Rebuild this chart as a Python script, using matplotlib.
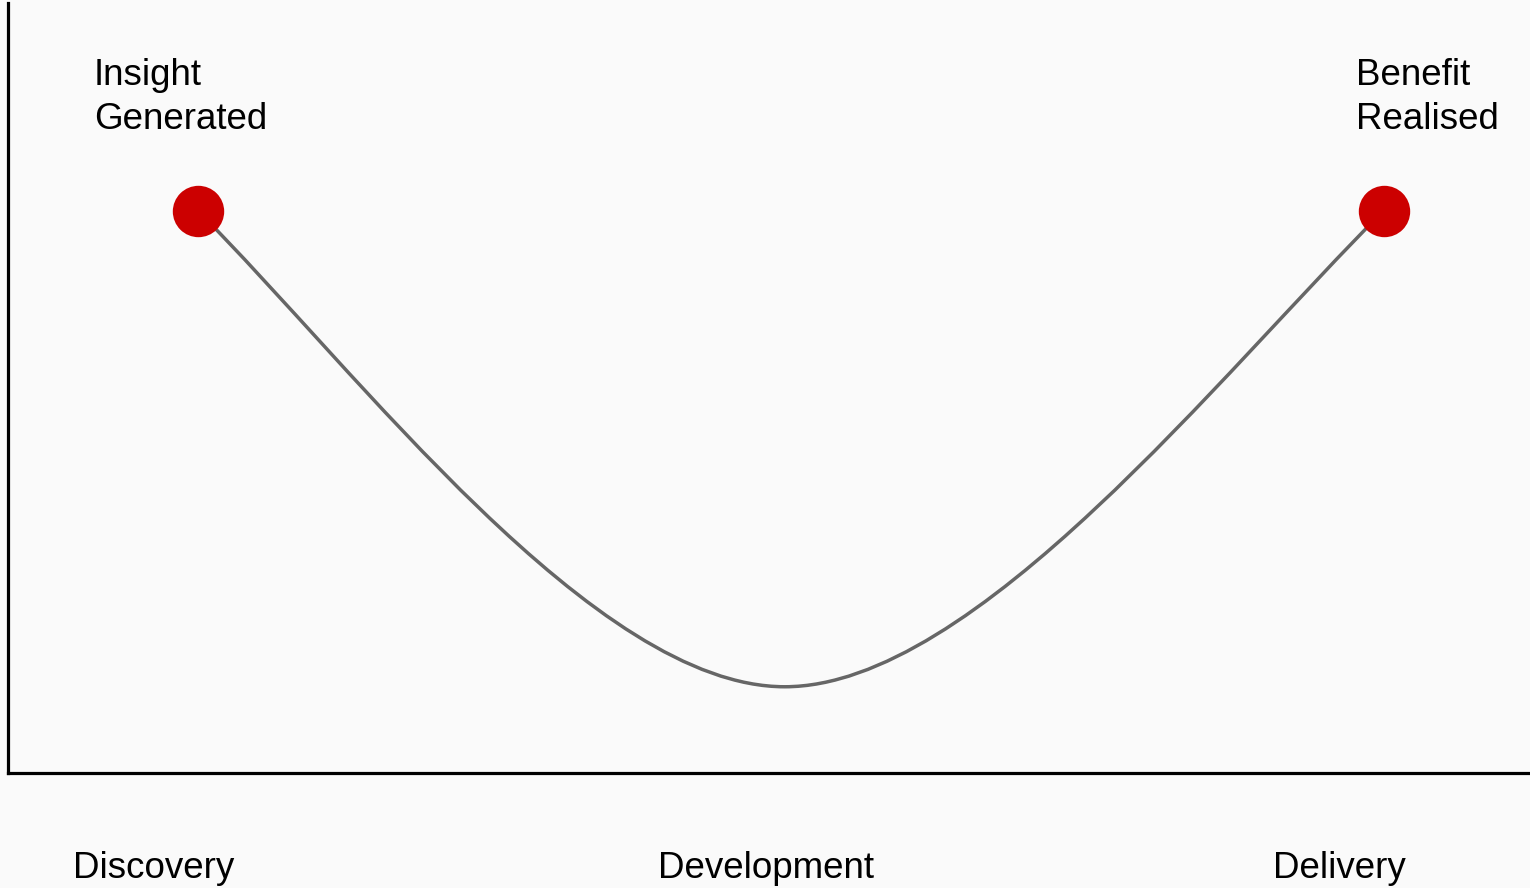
import matplotlib.pyplot as plt
from matplotlib.path import Path
from matplotlib.patches import PathPatch

# Phasen entlang der x-Achse
stage_labels = ['Discovery', 'Development', 'Delivery']
stage_x = [9.6, 49.9, 87.6]

# Meilensteine (rote Punkte)
milestone_labels = ['Insight\nGenerated', 'Benefit\nRealised']
milestone_x = [12.5, 90.5]
milestone_y = [73.0, 73.0]

# Tiefpunkt der Kurve
trough_x = 51.1
trough_y = 11.2

# Bezier-Stützpunkte der beiden Kurvenhälften
left_handle_x = [23.0, 38.6]
left_handle_y = [52.2, 11.2]
right_handle_x = [63.6, 79.9]
right_handle_y = [11.2, 52.2]

bg = '#fafafa'
fig = plt.figure(figsize=(15.3, 8.88), dpi=100, facecolor=bg)
ax = fig.add_axes([8 / 1530, 115 / 888, 1520 / 1530, 770 / 888])
ax.set_facecolor(bg)

verts = [
    (milestone_x[0], milestone_y[0]),
    (left_handle_x[0], left_handle_y[0]),
    (left_handle_x[1], left_handle_y[1]),
    (trough_x, trough_y),
    (right_handle_x[0], right_handle_y[0]),
    (right_handle_x[1], right_handle_y[1]),
    (milestone_x[1], milestone_y[1]),
]
codes = [Path.MOVETO] + [Path.CURVE4] * 6
curve = PathPatch(Path(verts, codes), facecolor='none', edgecolor='#666666',
                  linewidth=2.5, zorder=2)
ax.add_patch(curve)

ax.plot(milestone_x, milestone_y, 'o', color='#cc0000', markersize=37,
        markeredgewidth=0, zorder=3)

# Beschriftungen der Meilensteine
label_x = [5.66, 88.7]
for lx, text in zip(label_x, milestone_labels):
    ax.text(lx, 92.8, text, ha='left', va='top', fontsize=26.5,
            family='Liberation Sans', color='black', linespacing=1.32)

ax.set_xlim(0, 100)
ax.set_ylim(0, 100)

ax.set_xticks(stage_x, stage_labels, fontsize=26.5, family='Liberation Sans')
ax.tick_params(axis='x', length=0, pad=56.5)
ax.set_yticks([])

for side in ['top', 'right']:
    ax.spines[side].set_visible(False)
for side in ['left', 'bottom']:
    ax.spines[side].set_linewidth(2.3)
    ax.spines[side].set_color('black')

fig.savefig('out.png', dpi=100, facecolor=bg)
